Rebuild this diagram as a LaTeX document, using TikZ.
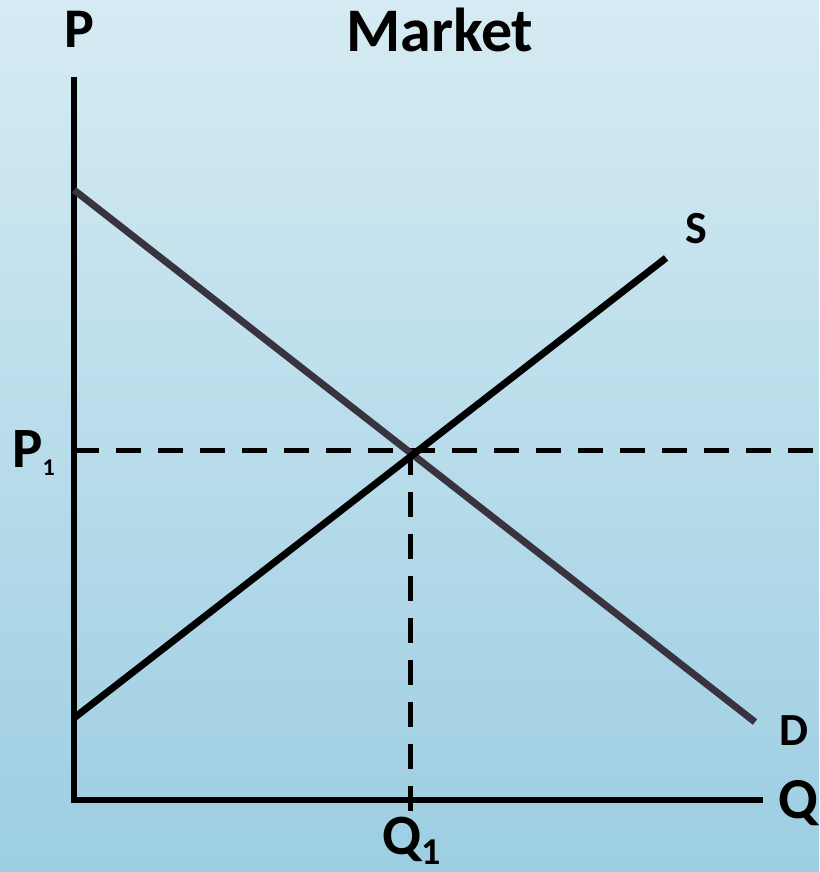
\documentclass[tikz,border=0pt]{standalone}
\usepackage{fontspec}
\setmainfont{Carlito}
\definecolor{bgtop}{HTML}{D6EBF3}
\definecolor{bgbot}{HTML}{9DCEE2}
\definecolor{dcol}{HTML}{39333F}
\begin{document}
\begin{tikzpicture}[x=1pt,y=-1pt,
  lbl/.style={font=\bfseries, inner sep=0pt, anchor=base west},
  axis/.style={line width=5.5pt, black},
  curve/.style={line width=7pt},
  guide/.style={line width=5pt, dash pattern=on 25pt off 17pt}]
\shade[top color=bgtop, bottom color=bgbot] (0,0) rectangle (819,872);
\useasboundingbox (0,0) rectangle (819,872);
% coordinates
\coordinate (ytop) at (74,80);
\coordinate (orig) at (74,800);
\coordinate (xend) at (760,800);
\coordinate (d1) at (74,190);
\coordinate (d2) at (755,722);
\coordinate (s1) at (74,718);
\coordinate (s2) at (666,258);
\coordinate (eq) at (410,450);
\coordinate (p1) at (74,450);
\coordinate (pend) at (819,450);
\coordinate (q1) at (410,814);
% guides
\draw[guide] (p1) -- (pend);
\draw[guide] (eq) -- (q1);
% axes
\draw[axis, line cap=rect] (ytop) -- (orig) -- (xend);
% curves
\draw[curve, dcol] (d1) -- (d2);
\draw[curve, black] (s1) -- (s2);
% labels
\node[lbl, font=\fontsize{56}{60}\selectfont\bfseries] (P) at (64,48) {P};
\node[lbl, font=\fontsize{62}{66}\selectfont\bfseries] (M) at (346,52) {Market};
\node[lbl, font=\fontsize{57}{60}\selectfont\bfseries] (P1) at (12,467) {P\raisebox{-8pt}{\fontsize{24}{26}\selectfont\bfseries 1}};
\node[lbl, font=\fontsize{57}{60}\selectfont\bfseries] (Q1) at (382,854) {Q\raisebox{-10pt}{\fontsize{38}{40}\selectfont\bfseries 1}};
\node[lbl, font=\fontsize{58}{60}\selectfont\bfseries] (Q) at (778,818) {Q};
\node[lbl, font=\fontsize{46}{50}\selectfont\bfseries] (S) at (685,243) {S};
\node[lbl, font=\fontsize{46}{50}\selectfont\bfseries] (D) at (779,745) {D};
\end{tikzpicture}
\end{document}
